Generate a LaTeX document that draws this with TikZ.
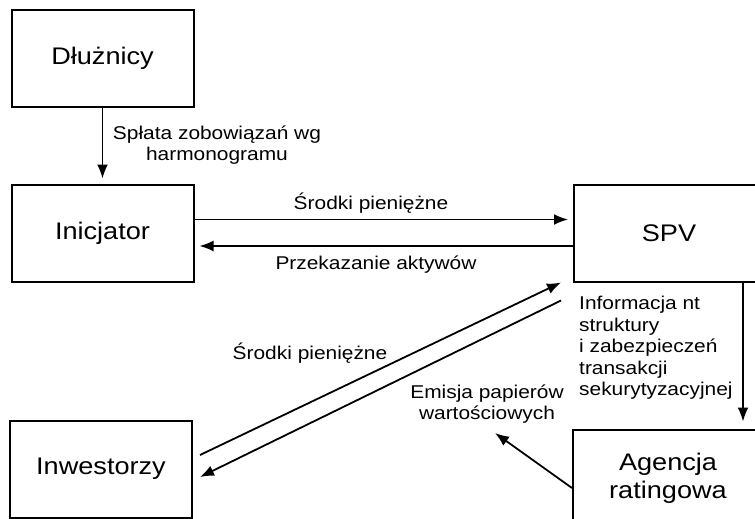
\documentclass[tikz,border=0pt]{standalone}
\usepackage{fontspec}
\setmainfont{Liberation Sans}[FakeStretch=1.13]
\usepackage{tikz}
\usetikzlibrary{arrows.meta}
\definecolor{SecInk}{HTML}{000000}
\definecolor{SecPaper}{HTML}{FFFFFF}

\begin{document}
\begin{tikzpicture}[x=1pt,y=-1pt,
  box/.style={draw=SecInk,line width=2pt,minimum width=182pt,minimum height=97pt,
    inner sep=0pt,align=center,font=\fontsize{24}{28}\selectfont},
  wide/.style={minimum width=190pt},
  lbl/.style={text=SecInk,inner sep=0pt,font=\fontsize{18.5}{21.5}\selectfont},
  arr/.style={draw=SecInk,line width=1.8pt,-{Latex[length=14pt,width=11pt]}}]
\path[use as bounding box] (0,0) rectangle (755,519);
\fill[SecPaper] (0,0) rectangle (755,519);
\node[box] (dl) at (102.5,58.5) {Dłużnicy};
\node[box] (ini) at (102.5,233) {Inicjator};
\node[box,wide] (spv) at (669,233) {SPV};
\node[box] (inw) at (101,469) {Inwestorzy};
\node[box,wide] (agn) at (668,478) {Agencja\\ratingowa};
\coordinate (emt) at (495,433);
\draw[arr,shorten >=5pt] (dl.south) -- (ini.north);
\draw[arr,shorten >=5pt] ([yshift=13.5pt]ini.east) -- ([yshift=13.5pt]spv.west);
\draw[arr,shorten >=5pt] ([yshift=-13pt]spv.west) -- ([yshift=-13pt]ini.east);
\draw[arr] ([shift={(7pt,14pt)}]inw.east) -- ([xshift=-12pt]spv.south west);
\draw[arr] ([shift={(-12pt,-18pt)}]spv.south west) -- ([shift={(7pt,-8pt)}]inw.east);
\draw[arr,shorten >=7pt] ([xshift=-22pt]spv.south east) -- ([xshift=-21pt]agn.north east);
\draw[arr] ([yshift=-10pt]agn.west) -- (emt);
\node[lbl,align=center] (splata) at (217,145) {Spłata zobowiązań wg\\harmonogramu};
\node[lbl] (srodki) at (371,203) {Środki pieniężne};
\node[lbl] (przek) at (376,265) {Przekazanie aktywów};
\node[lbl] (srodki2) at (310,353) {Środki pieniężne};
\node[lbl,align=center] (emisja) at (487,404) {Emisja papierów\\wartościowych};
\node[lbl,align=left,anchor=north west] (info) at (579,296) {Informacja nt\\struktury\\i zabezpieczeń\\transakcji\\sekurytyzacyjnej};
\end{tikzpicture}
\end{document}
